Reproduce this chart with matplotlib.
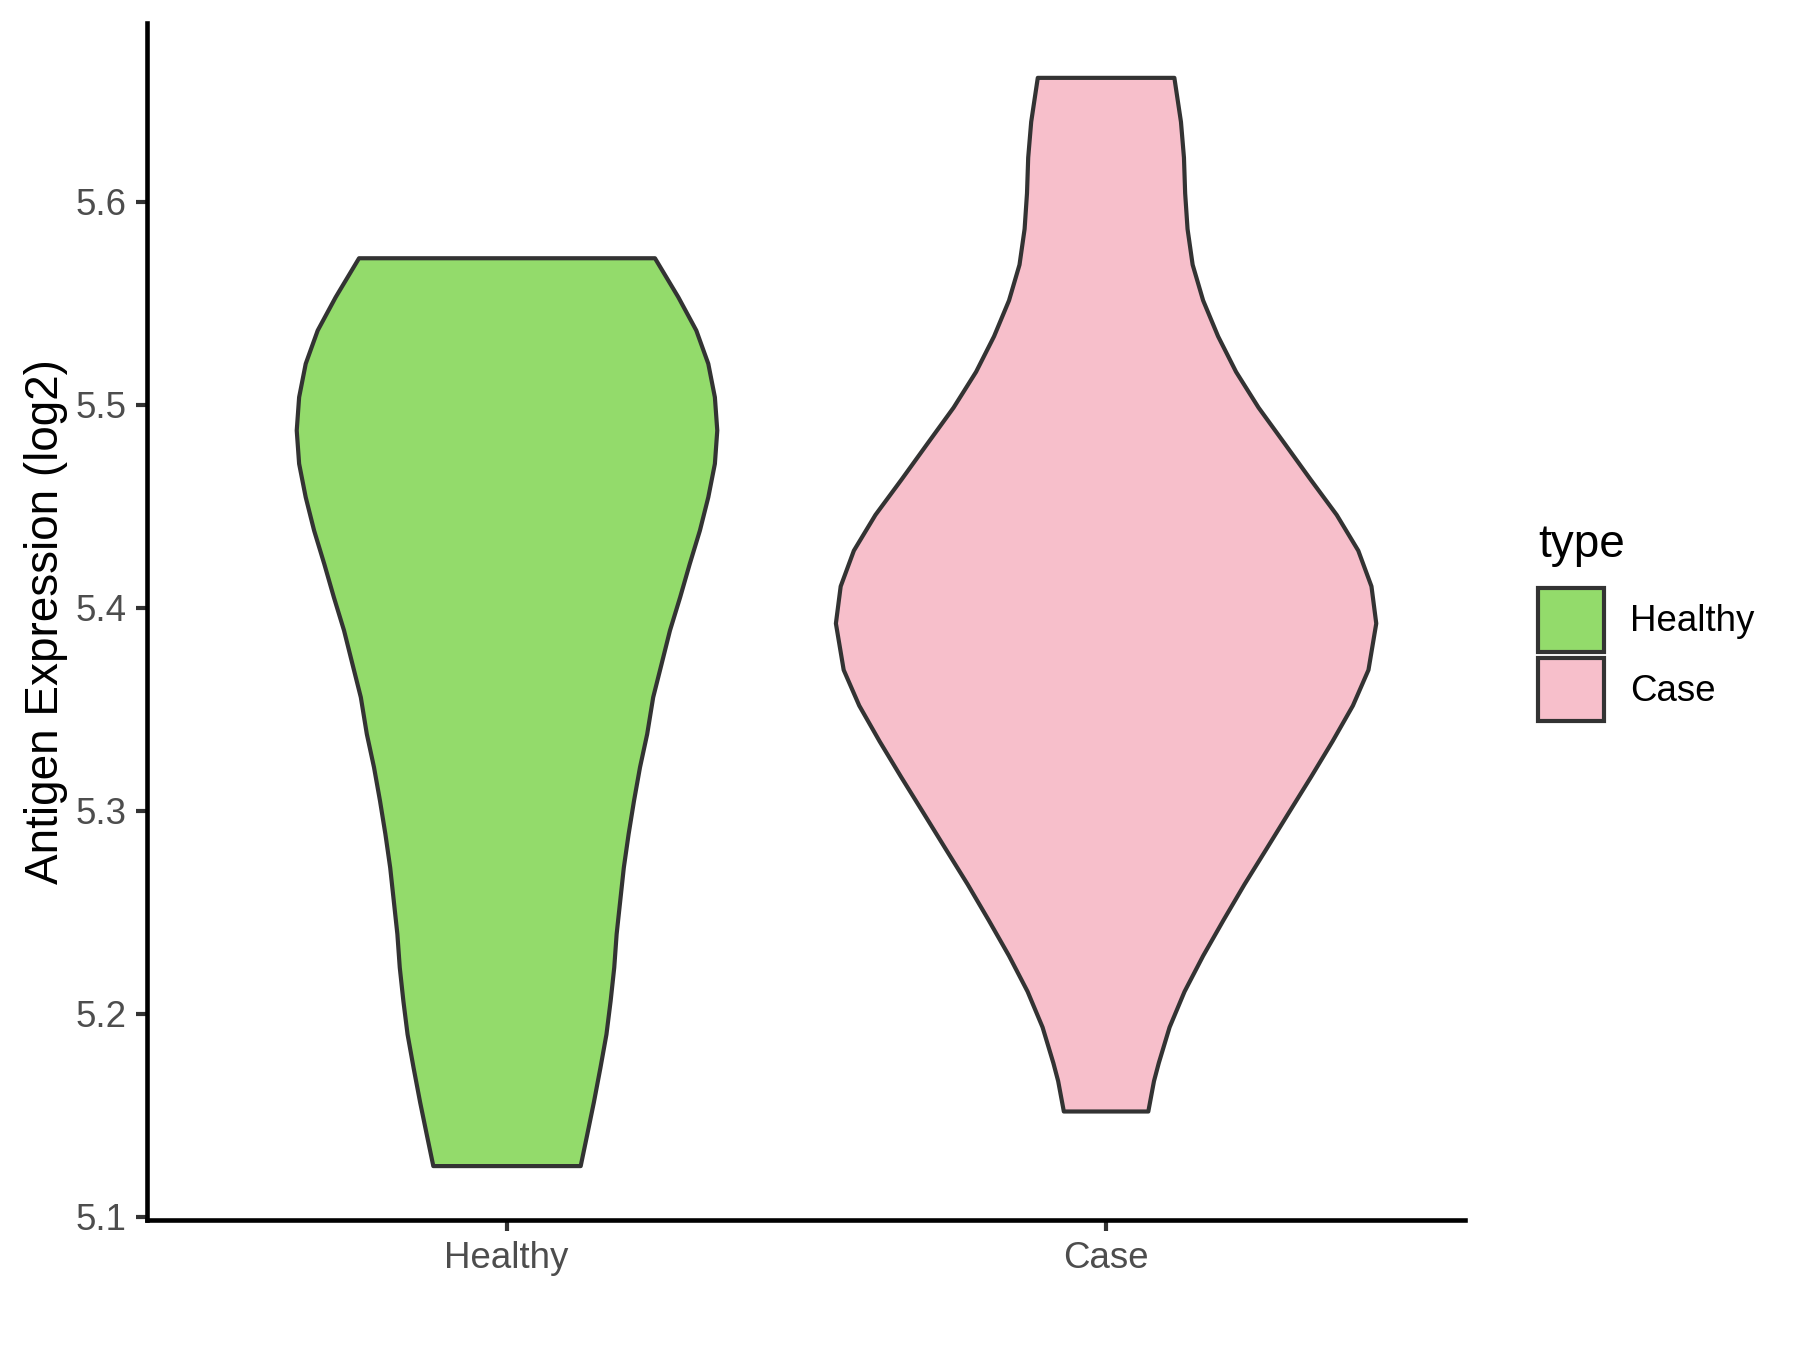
import numpy as np
import matplotlib.pyplot as plt
from matplotlib.patches import Patch

plt.rcParams['font.family'] = ['Liberation Sans', 'DejaVu Sans']

# violin outlines: expression level and half width (x units)
categories = ['Healthy', 'Case']
colors = ['#93DB6B', '#F7BFCB']

healthy_y = [5.1251, 5.1407, 5.1565, 5.1736, 5.1900, 5.2065, 5.2229, 5.2394, 5.2558,
             5.2722, 5.2887, 5.3051, 5.3216, 5.3380, 5.3561, 5.3725, 5.3890, 5.4054,
             5.4218, 5.4383, 5.4547, 5.4712, 5.4876, 5.5040, 5.5205, 5.5369, 5.5533, 5.5725]
healthy_w = [0.123, 0.134, 0.145, 0.156, 0.166, 0.173, 0.179, 0.183, 0.189,
             0.195, 0.203, 0.212, 0.222, 0.234, 0.244, 0.258, 0.272, 0.289,
             0.305, 0.322, 0.336, 0.347, 0.351, 0.347, 0.336, 0.316, 0.286, 0.247]

case_y = [5.1520, 5.1670, 5.1759, 5.1935, 5.2111, 5.2287, 5.2463, 5.2639, 5.2815, 5.2992,
          5.3168, 5.3344, 5.3520, 5.3696, 5.3925, 5.4108, 5.4284, 5.4460, 5.4636,
          5.4812, 5.4989, 5.5165, 5.5340, 5.5517, 5.5693, 5.5869, 5.6045, 5.6221,
          5.6397, 5.6614]
case_w = [0.0705, 0.080, 0.088, 0.106, 0.131, 0.162, 0.196, 0.231, 0.268, 0.305,
          0.342, 0.378, 0.412, 0.438, 0.451, 0.443, 0.421, 0.385, 0.341,
          0.298, 0.2545, 0.217, 0.187, 0.162, 0.1445, 0.136, 0.132, 0.130,
          0.125, 0.114]

y_ticks = [5.1, 5.2, 5.3, 5.4, 5.5, 5.6]

profiles = [(healthy_y, healthy_w), (case_y, case_w)]

fig = plt.figure(figsize=(6, 4.5), dpi=300)
ax = fig.add_axes([0.0817, 0.0963, 0.7322, 0.8867])

for i, (ys, ws) in enumerate(profiles):
    ys = np.array(ys)
    ws = np.array(ws)
    pos = i + 1
    ax.fill_betweenx(ys, pos - ws, pos + ws, facecolor=colors[i],
                     edgecolor='#333333', linewidth=1.0, joinstyle='round')

lo = min(min(healthy_y), min(case_y))
hi = max(max(healthy_y), max(case_y))
pad = 0.05 * (hi - lo)
ax.set_ylim(lo - pad, hi + pad)
ax.set_xlim(0.4, 2.6)

ax.set_xticks([1, 2])
ax.set_xticklabels(categories)
ax.set_yticks(y_ticks)
ax.set_yticklabels([f'{t:.1f}' for t in y_ticks])
ax.tick_params(axis='both', length=2.75, width=1.0, color='#333333',
               labelsize=8.8, labelcolor='#4D4D4D', pad=2.2)

for side in ['top', 'right']:
    ax.spines[side].set_visible(False)
for side in ['left', 'bottom']:
    ax.spines[side].set_linewidth(1.1)
    ax.spines[side].set_color('black')

ax.set_ylabel('Antigen Expression (log2)', fontsize=11, color='black', labelpad=1.8)

handles = [Patch(facecolor=colors[i], edgecolor='#333333', linewidth=1.0, label=c)
           for i, c in enumerate(categories)]
leg = ax.legend(handles=handles, title='type', loc='center left',
                bbox_to_anchor=(0.8445, 0.539), bbox_transform=fig.transFigure,
                frameon=False, fontsize=8.8, title_fontsize=11,
                handlelength=1.8, handleheight=2.3, handletextpad=0.7,
                labelspacing=0.15, borderpad=0, alignment='left')
leg._legend_box.sep = 5

fig.savefig('out.png', dpi=300)
